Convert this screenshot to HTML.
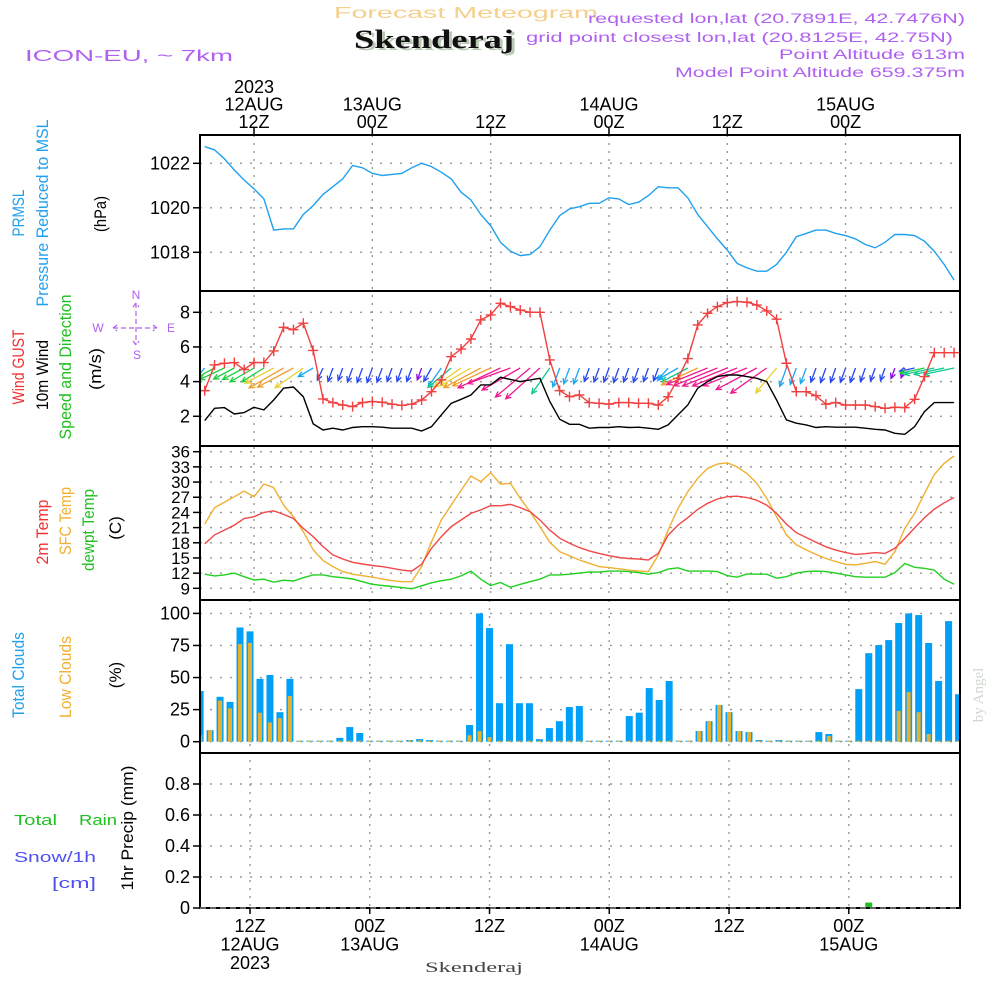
<!DOCTYPE html>
<html><head><meta charset="utf-8">
<style>
html,body{margin:0;padding:0;background:#fff;}
svg{display:block;font-family:"Liberation Sans",sans-serif;}
</style></head>
<body>
<svg id="chart" width="1000" height="1000" viewBox="0 0 1000 1000" xmlns="http://www.w3.org/2000/svg">
<rect x="0" y="0" width="1000" height="1000" fill="#fff"/>
<g>
<text x="334" y="18" font-size="16" fill="#f5cf8c" textLength="264" lengthAdjust="spacingAndGlyphs">Forecast Meteogram</text>
<text x="357" y="50" font-family="Liberation Serif,serif" font-weight="bold" font-size="26" fill="#b9c9b5" textLength="160" lengthAdjust="spacingAndGlyphs">Skenderaj</text>
<text x="354" y="48" font-family="Liberation Serif,serif" font-weight="bold" font-size="26" fill="#111" textLength="160" lengthAdjust="spacingAndGlyphs">Skenderaj</text>
<text x="25" y="61" font-size="16" fill="#b060f0" textLength="208" lengthAdjust="spacingAndGlyphs">ICON-EU, ~ 7km</text>
<text x="965" y="23" font-size="13.5" fill="#b060f0" text-anchor="end" textLength="377" lengthAdjust="spacingAndGlyphs">requested lon,lat (20.7891E, 42.7476N)</text>
<text x="953" y="42" font-size="13.5" fill="#b060f0" text-anchor="end" textLength="427" lengthAdjust="spacingAndGlyphs">grid point closest lon,lat (20.8125E, 42.75N)</text>
<text x="965" y="59" font-size="13.5" fill="#b060f0" text-anchor="end" textLength="186" lengthAdjust="spacingAndGlyphs">Point Altitude 613m</text>
<text x="965" y="77" font-size="13.5" fill="#b060f0" text-anchor="end" textLength="290" lengthAdjust="spacingAndGlyphs">Model Point Altitude 659.375m</text>
</g>
<g font-size="17">
<text transform="translate(24,213) rotate(-90)" text-anchor="middle" fill="#20a0f0" textLength="47" lengthAdjust="spacingAndGlyphs">PRMSL</text>
<text transform="translate(48,213) rotate(-90)" text-anchor="middle" fill="#20a0f0" textLength="187" lengthAdjust="spacingAndGlyphs">Pressure Reduced to MSL</text>
<text transform="translate(106,214) rotate(-90)" text-anchor="middle" fill="#000" textLength="36" lengthAdjust="spacingAndGlyphs">(hPa)</text>
<text transform="translate(24,367) rotate(-90)" text-anchor="middle" fill="#f03030" textLength="75" lengthAdjust="spacingAndGlyphs">Wind GUST</text>
<text transform="translate(48,375) rotate(-90)" text-anchor="middle" fill="#000" textLength="70" lengthAdjust="spacingAndGlyphs">10m Wind</text>
<text transform="translate(71,367) rotate(-90)" text-anchor="middle" fill="#20c020" textLength="145" lengthAdjust="spacingAndGlyphs">Speed and Direction</text>
<text transform="translate(101,369) rotate(-90)" text-anchor="middle" fill="#000" textLength="42" lengthAdjust="spacingAndGlyphs">(m/s)</text>
<text transform="translate(48,532) rotate(-90)" text-anchor="middle" fill="#f03030" textLength="65" lengthAdjust="spacingAndGlyphs">2m Temp</text>
<text transform="translate(71,521) rotate(-90)" text-anchor="middle" fill="#f0b030" textLength="68" lengthAdjust="spacingAndGlyphs">SFC Temp</text>
<text transform="translate(94,530) rotate(-90)" text-anchor="middle" fill="#20c020" textLength="82" lengthAdjust="spacingAndGlyphs">dewpt Temp</text>
<text transform="translate(121,528) rotate(-90)" text-anchor="middle" fill="#000">(C)</text>
<text transform="translate(24,675) rotate(-90)" text-anchor="middle" fill="#20a0f0" textLength="86" lengthAdjust="spacingAndGlyphs">Total Clouds</text>
<text transform="translate(71,677) rotate(-90)" text-anchor="middle" fill="#f0b030" textLength="82" lengthAdjust="spacingAndGlyphs">Low Clouds</text>
<text transform="translate(121,675) rotate(-90)" text-anchor="middle" fill="#000">(%)</text>
<text transform="translate(133,828) rotate(-90)" text-anchor="middle" fill="#000" textLength="125" lengthAdjust="spacingAndGlyphs">1hr Precip (mm)</text>
<text x="14" y="825" font-size="15" fill="#20c020" textLength="43" lengthAdjust="spacingAndGlyphs">Total</text>
<text x="79" y="825" font-size="15" fill="#20c020" textLength="38" lengthAdjust="spacingAndGlyphs">Rain</text>
<text x="14" y="862" font-size="15" fill="#5050f0" textLength="82" lengthAdjust="spacingAndGlyphs">Snow/1h</text>
<text x="52" y="888" font-size="15" fill="#5050f0" textLength="44" lengthAdjust="spacingAndGlyphs">[cm]</text>
</g>
<g fill="#b060f0" stroke="#b060f0" font-size="12">
<text x="136" y="299" text-anchor="middle" stroke="none">N</text>
<text x="137" y="359" text-anchor="middle" stroke="none">S</text>
<text x="98" y="332" text-anchor="middle" stroke="none">W</text>
<text x="171" y="332" text-anchor="middle" stroke="none">E</text>
<path d="M113 328H157M136 303V345M117 325L113 328L117 331M153 325L157 328L153 331M133 307L136 303L139 307M133 341L136 345L139 341" fill="none" stroke-width="1.2" stroke-dasharray="5,3"/>
</g>
<text transform="translate(983,695) rotate(-90)" text-anchor="middle" font-family="Liberation Serif,serif" font-size="15" fill="#cfd8cf">by Angel</text>
<text x="425" y="972" font-family="Liberation Serif,serif" font-size="15" fill="#444" textLength="98" lengthAdjust="spacingAndGlyphs">Skenderaj</text>
<g id="plot"></g>
</svg>
<script>
// hours relative to 12Z 12AUG2023
const hours = [];
for (let i = -5; i <= 71; i++) hours.push(i);
const pressure = [1022.75,1022.6,1022.2,1021.7,1021.25,1020.85,1020.4,1019.0,1019.05,1019.05,1019.7,1020.1,1020.6,1020.95,1021.3,1021.9,1021.8,1021.55,1021.45,1021.5,1021.55,1021.8,1022.0,1021.85,1021.6,1021.3,1020.7,1020.35,1019.7,1019.2,1018.45,1018.05,1017.85,1017.9,1018.25,1019.0,1019.65,1019.95,1020.05,1020.2,1020.2,1020.45,1020.4,1020.15,1020.25,1020.55,1020.95,1020.9,1020.9,1020.45,1019.7,1019.15,1018.6,1018.1,1017.5,1017.3,1017.15,1017.15,1017.45,1018.0,1018.7,1018.85,1019.0,1019.0,1018.85,1018.75,1018.6,1018.35,1018.2,1018.45,1018.8,1018.8,1018.75,1018.5,1018.05,1017.45,1016.75];
const gust = [3.48,4.96,5.06,5.1,4.7,5.1,5.1,5.77,7.13,7.0,7.37,5.8,3.0,2.79,2.65,2.56,2.79,2.85,2.81,2.7,2.63,2.7,2.94,3.42,4.1,5.44,5.88,6.46,7.56,7.85,8.52,8.33,8.13,8.0,8.0,5.25,3.48,3.13,3.23,2.79,2.75,2.7,2.79,2.79,2.75,2.75,2.65,3.13,4.19,5.33,7.27,7.94,8.33,8.56,8.62,8.58,8.42,8.08,7.6,5.06,3.42,3.42,3.19,2.7,2.79,2.65,2.65,2.65,2.56,2.46,2.52,2.5,2.98,4.29,5.67,5.67,5.67];
const wind = [1.75,2.46,2.5,2.13,2.21,2.52,2.37,2.94,3.62,3.69,3.13,1.56,1.21,1.31,1.21,1.35,1.4,1.4,1.37,1.31,1.31,1.31,1.15,1.4,2.08,2.75,2.98,3.23,3.81,3.81,4.25,4.13,4.0,4.1,4.19,2.85,1.83,1.54,1.54,1.31,1.35,1.35,1.4,1.35,1.37,1.31,1.25,1.5,2.08,2.65,3.62,4.0,4.29,4.38,4.38,4.29,4.19,4.0,2.94,1.79,1.6,1.5,1.35,1.4,1.37,1.37,1.37,1.31,1.25,1.21,1.02,0.96,1.4,2.27,2.79,2.79,2.79];
const windDir = [40,62,65,62,62,60,58,62,60,62,55,60,25,20,20,20,20,20,20,20,20,20,20,30,35,50,55,60,62,65,65,70,60,50,48,35,20,20,20,20,20,20,20,20,20,20,20,40,60,62,65,68,68,68,68,68,62,55,40,20,20,20,20,20,20,20,20,20,20,20,20,20,78,78,78,78,78];
const temp2m = [17.8,19.55,20.5,21.5,22.8,23.15,24.0,24.3,23.6,22.8,20.85,19.2,17.25,15.6,14.8,14.15,13.8,13.5,13.3,12.95,12.6,12.4,13.75,16.9,19.2,21.2,22.5,23.8,24.5,25.35,25.3,25.6,24.95,24.15,22.5,20.5,18.9,17.9,17.05,16.4,15.9,15.45,15.1,14.9,14.8,14.6,15.9,19.5,21.5,22.95,24.6,25.8,26.65,27.1,27.2,26.95,26.4,25.45,23.8,21.7,20.0,19.05,18.1,17.2,16.55,16.05,15.7,15.85,16.05,15.9,16.9,18.85,20.95,22.95,24.65,25.9,26.95];
const tempSfc = [21.7,24.95,26.0,27.1,28.2,27.1,29.6,28.9,25.45,23.15,20.2,16.6,14.5,13.3,12.3,11.8,11.5,11.2,10.85,10.5,10.3,10.3,13.3,18.2,22.5,25.45,28.4,31.2,30.1,31.85,29.6,29.75,26.8,24.15,21.2,18.1,16.25,15.4,14.6,13.95,13.3,13.1,12.85,12.6,12.4,12.3,15.6,20.5,24.8,28.1,30.75,32.7,33.55,33.8,33.0,31.7,29.75,26.8,23.15,19.55,17.6,16.6,15.7,14.9,14.3,13.75,13.6,13.95,14.3,13.75,16.25,20.85,23.8,27.75,31.5,33.7,35.15];
const dewpt = [11.8,11.45,11.65,12.0,11.3,10.65,10.8,10.2,10.6,10.45,11.1,11.65,11.65,11.3,11.1,10.85,10.3,9.8,9.55,9.35,9.15,8.9,9.5,10.1,10.5,10.8,11.45,12.4,10.8,9.55,10.15,9.2,9.8,10.3,10.8,11.65,11.65,11.8,12.0,12.25,12.2,12.4,12.4,12.3,12.1,11.8,12.1,12.8,13.05,12.4,12.4,12.4,12.3,11.5,11.2,11.85,11.8,11.8,11.0,11.3,12.0,12.3,12.4,12.3,12.0,11.65,11.3,11.2,11.2,11.2,12.1,13.9,13.15,12.95,12.6,10.8,9.8];
const totalClouds = [39.5,9,35,31,89,86,49,52,23,49,0,0,0,0,3,11.4,6.8,0,0,0,0,1.3,2,1.3,0,0,0,13,100,88.6,30,76,30,30,2,10.6,16,27,27.8,0,0,0,0,20,22.6,41.8,32.5,47.3,0,0,8.3,16,28.6,23,8.3,7.5,1.3,0,1.3,0,0,0,7.5,6,0,0,41,69,75.3,79.2,92.5,100,98.7,76.9,47.3,94,37];
const lowClouds = [5,9,32,26,76,77,22.6,15,18.4,35.6,0,0,0,0,0,0,0,0,0,0,0,1,1,0,0,0,0,5,8.3,3.6,0,0,0,0,0,0,0,0,0,0,0,0,0,0,0,0,0,0,0,0,8.3,16,28.6,23,8.3,7.5,0,0,0,0,0,0,0,4.4,0,0,0,0,0,0,24,38.7,23,6,0,0,0];
const precip = [0,0,0,0,0,0,0,0,0,0,0,0,0,0,0,0,0,0,0,0,0,0,0,0,0,0,0,0,0,0,0,0,0,0,0,0,0,0,0,0,0,0,0,0,0,0,0,0,0,0,0,0,0,0,0,0,0,0,0,0,0,0,0,0,0,0,0,0.035,0,0,0,0,0,0,0,0,0];
const pressTicks = [1022,1020,1018];
const windTicks = [8,6,4,2];
const tempTicks = [36,33,30,27,24,21,18,15,12,9];
const cloudTicks = [100,75,50,25,0];
const precipTicks = ["0.8","0.6","0.4","0.2","0"];
const gridHours = [0,12,24,36,48,60];
const topLabels = [["2023","12AUG","12Z"],["","13AUG","00Z"],["","","12Z"],["","14AUG","00Z"],["","","12Z"],["","15AUG","00Z"]];
const botLabels = [["12Z","12AUG","2023"],["00Z","13AUG",""],["12Z","",""],["00Z","14AUG",""],["12Z","",""],["00Z","15AUG",""]];

const NS = "http://www.w3.org/2000/svg";
const plot = document.getElementById('plot');
function mk(tag, attrs, parent) {
  const e = document.createElementNS(NS, tag);
  for (const k in attrs) e.setAttribute(k, attrs[k]);
  (parent || plot).appendChild(e);
  return e;
}
const xU = h => 254 + 9.86 * h;
const xL = h => 250 + 9.98 * h;
const yP = v => 163.3 + (1022 - v) * 22.25;
const yW = v => 312.3 + (8 - v) * 17.33;
const yT = v => 451.7 + (36 - v) * 5.06;
const yC = v => 741.7 - v * 1.283;
const yR = v => 908 - v * 155;
const L = 200, R = 960;
const panels = [[135,291],[291,446],[446,600],[600,753],[753,908]];

const defs = mk('defs', {});
panels.forEach((p, i) => {
  const cp = mk('clipPath', {id: 'cp' + i}, defs);
  mk('rect', {x: L, y: p[0], width: R - L, height: p[1] - p[0]}, cp);
});

function hgrid(g, y) {
  const l = mk('line', {x1: L, x2: R, y1: y, y2: y, stroke: '#999', 'stroke-width': 1.4, 'stroke-dasharray': '2,8'}, g);
  
  
}
function ytick(y, label, fs) {
  const t = mk('line', {x1: 193, x2: 200, y1: y, y2: y, stroke: '#000', 'stroke-width': 1.5});
  
  
  const tx = mk('text', {x: 190, y: y + 6, 'text-anchor': 'end', 'font-size': fs || 18, fill: '#000'});
  
  
  tx.textContent = label;
}
const grid = mk('g', {});


pressTicks.forEach(v => { hgrid(grid, yP(v)); ytick(yP(v), String(v)); });
windTicks.forEach(v => { hgrid(grid, yW(v)); ytick(yW(v), String(v)); });
tempTicks.forEach(v => { hgrid(grid, yT(v)); ytick(yT(v), String(v), 17); });
cloudTicks.forEach(v => { hgrid(grid, yC(v)); ytick(yC(v), String(v)); });
precipTicks.forEach(v => { hgrid(grid, yR(parseFloat(v))); ytick(yR(parseFloat(v)), v); });
gridHours.forEach(h => {
  [[135,600,xU(h)],[600,908,xL(h)]].forEach(s => {
    const l = mk('line', {x1: s[2], x2: s[2], y1: s[0], y2: s[1], stroke: '#999', 'stroke-width': 1.4, 'stroke-dasharray': '2,6'}, grid);
    
    
  });
});

function line(vals, xf, yf, color, name, clip) {
  const pts = hours.map((h, i) => xf(h).toFixed(1) + ',' + yf(vals[i]).toFixed(1)).join(' ');
  const p = mk('polyline', {points: pts, fill: 'none', stroke: color, 'stroke-width': 1.4, 'clip-path': 'url(#' + clip + ')'});
  
  
  return p;
}
line(pressure, xU, yP, '#20a0f0', 'pressure-line', 'cp0');

function arrowColor(s) {
  if (s < 1.2) return '#8a10e0';
  if (s < 1.45) return '#2848f0';
  if (s < 2.1) return '#18a8f0';
  if (s < 2.6) return '#20d040';
  if (s < 2.9) return '#10c890';
  if (s < 3.4) return '#e8d030';
  if (s < 4.0) return '#f0a030';
  return '#f01890';
}
const arrows = mk('g', {'clip-path': 'url(#cp1)'});


hours.forEach((h, i) => {
  const s = wind[i], d = windDir[i] * Math.PI / 180, len = 11 * s;
  const x0 = xU(h), y0 = 368;
  const dx = -Math.sin(d) * len, dy = Math.cos(d) * len;
  const x1 = x0 + dx, y1 = y0 + dy;
  const ang = Math.atan2(dy, dx), hl = 6;
  const c = arrowColor(s);
  const a = mk('path', {d: `M${x0.toFixed(1)} ${y0}L${x1.toFixed(1)} ${y1.toFixed(1)}M${(x1 - hl*Math.cos(ang-0.45)).toFixed(1)} ${(y1 - hl*Math.sin(ang-0.45)).toFixed(1)}L${x1.toFixed(1)} ${y1.toFixed(1)}L${(x1 - hl*Math.cos(ang+0.45)).toFixed(1)} ${(y1 - hl*Math.sin(ang+0.45)).toFixed(1)}`, fill: 'none', stroke: c, 'stroke-width': 1.3}, arrows);
  
  
});
line(wind, xU, yW, '#000', 'wind-speed-line', 'cp1');
line(gust, xU, yW, '#f04040', 'wind-gust-line', 'cp1');
const gm = mk('g', {'clip-path': 'url(#cp1)', stroke: '#f04040', 'stroke-width': 1.4});


hours.forEach((h, i) => {
  const x = xU(h), y = yW(gust[i]);
  const m = mk('path', {d: `M${x-5} ${y}H${x+5}M${x} ${y-5}V${y+5}`}, gm);
  
  
});

line(tempSfc, xU, yT, '#f0b030', 'sfc-temp-line', 'cp2');
line(temp2m, xU, yT, '#f04848', '2m-temp-line', 'cp2');
line(dewpt, xU, yT, '#20d020', 'dewpt-line', 'cp2');

const cg = mk('g', {'clip-path': 'url(#cp3)'});


hours.forEach((h, i) => {
  const x = xL(h);
  const b = mk('rect', {x: x - 3.5, y: yC(totalClouds[i]) - (totalClouds[i] === 0 ? 1 : 0), width: 7, height: Math.max(1, yC(0) - yC(totalClouds[i])), fill: '#00a0f8'}, cg);
  
  
  const o = mk('rect', {x: x - 2, y: yC(lowClouds[i]) - (lowClouds[i] === 0 ? 1 : 0), width: 4, height: Math.max(1, yC(0) - yC(lowClouds[i])), fill: '#e8b030'}, cg);
  
  
});
const pg = mk('g', {'clip-path': 'url(#cp4)'});


hours.forEach((h, i) => {
  if (precip[i] <= 0) return;
  const b = mk('rect', {x: xL(h) - 3.5, y: yR(precip[i]), width: 7, height: yR(0) - yR(precip[i]), fill: '#20c020'}, pg);
  
  
});

panels.forEach((p, i) => {
  const r = mk('rect', {x: L, y: p[0], width: R - L, height: p[1] - p[0], fill: 'none', stroke: '#000', 'stroke-width': 2});
  
  
});
const bd = mk('line', {x1: L, x2: R, y1: 908, y2: 908, stroke: '#666', 'stroke-width': 2, 'stroke-dasharray': '6,4'});



gridHours.forEach((h, k) => {
  const xt = xU(h);
  const t = mk('line', {x1: xt, x2: xt, y1: 128, y2: 135, stroke: '#000', 'stroke-width': 1.5});
  
  
  topLabels[k].forEach((s, j) => {
    if (!s) return;
    const tx = mk('text', {x: xt, y: 93 + j * 17.5, 'text-anchor': 'middle', 'font-size': 18, fill: '#000'});
    
    
    tx.textContent = s;
  });
  const xb = xL(h);
  const tb = mk('line', {x1: xb, x2: xb, y1: 908, y2: 914, stroke: '#000', 'stroke-width': 1.5});
  
  
  botLabels[k].forEach((s, j) => {
    if (!s) return;
    const tx = mk('text', {x: xb, y: 932 + j * 18.5, 'text-anchor': 'middle', 'font-size': 18, fill: '#000'});
    
    
    tx.textContent = s;
  });
});
</script>
</body></html>
